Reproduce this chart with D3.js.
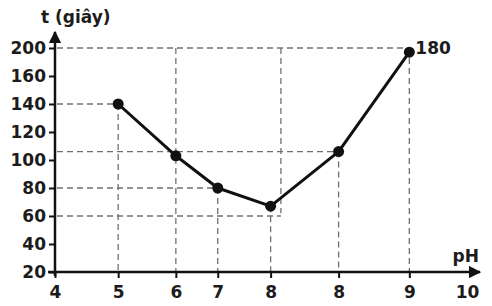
<!DOCTYPE html>
<html>
<head>
<meta charset="utf-8">
<script src="https://cdn.jsdelivr.net/npm/d3@7"></script>
<style>
  body { margin: 0; background: #fff; }
  svg { display: block; }
  text { font-family: "DejaVu Sans", sans-serif; font-weight: bold; fill: #1c1c1c; }
</style>
</head>
<body>
<svg width="492" height="306"></svg>
<script>
// data
const xTickValues = [4, 4.92, 5.76, 6.37, 7.14, 8.13, 9.16, 10];
const xTickLabels = ["4", "5", "6", "7", "8", "8", "9", "10"];
const yTickValues = [20, 40, 60, 80, 100, 120, 140, 160, 200];

const phValues = [4.92, 5.76, 6.37, 7.14, 8.13, 9.16];
const timeValues = [140, 103, 80, 67, 106, 194];
const pointLabels = ["", "", "", "", "", "180"];

// dashed guide lines
const hGuides = [
  { t: 200, ph: 9.16 },
  { t: 140, ph: 4.92 },
  { t: 106, ph: 8.13 },
  { t: 80, ph: 6.37 },
  { t: 60, ph: 7.29 }
];
const vGuides = [
  { ph: 4.92, from: 140, to: 20 },
  { ph: 5.76, from: 200, to: 20 },
  { ph: 6.37, from: 80, to: 20 },
  { ph: 7.14, from: 67, to: 20 },
  { ph: 7.29, from: 200, to: 62 },
  { ph: 8.13, from: 106, to: 20 },
  { ph: 9.16, from: 200, to: 20 }
];

const svg = d3.select("svg");
const mLeft = 55, mRight = 467, mTop = 48, mBottom = 272;

const x = d3.scaleLinear().domain([4, 10]).range([mLeft, mRight]);
// y ticks are drawn evenly spaced (180 skipped), so use a piecewise scale
const step = (mBottom - mTop) / (yTickValues.length - 1);
const y = d3.scaleLinear()
  .domain(yTickValues)
  .range(yTickValues.map((d, i) => mBottom - i * step));

// guides
const guides = svg.append("g")
  .attr("stroke", "#707070")
  .attr("stroke-width", 1.3)
  .attr("stroke-dasharray", "6,4");

guides.selectAll(".hg")
  .data(hGuides)
  .enter()
  .append("line")
  .attr("x1", x(4) + 2)
  .attr("x2", (d) => x(d.ph))
  .attr("y1", (d) => y(d.t))
  .attr("y2", (d) => y(d.t));

guides.selectAll(".vg")
  .data(vGuides)
  .enter()
  .append("line")
  .attr("x1", (d) => x(d.ph))
  .attr("x2", (d) => x(d.ph))
  .attr("y1", (d) => y(d.from))
  .attr("y2", (d) => y(d.to));

// axes
const xAxis = svg.append("g")
  .attr("transform", `translate(0,${mBottom})`)
  .call(
    d3.axisBottom(x)
      .tickValues(xTickValues)
      .tickSize(6)
      .tickPadding(8)
      .tickFormat((d, i) => xTickLabels[i])
  );
xAxis.select(".domain").remove();
xAxis.selectAll(".tick line").attr("stroke", "#111").attr("stroke-width", 2)
  .filter((d) => d === 10).remove();
xAxis.selectAll(".tick text").attr("font-size", 17).attr("font-family", null);

const yAxis = svg.append("g")
  .attr("transform", `translate(${mLeft},0)`)
  .call(d3.axisLeft(y).tickValues(yTickValues).tickSize(6).tickPadding(3));
yAxis.select(".domain").remove();
yAxis.selectAll(".tick line").attr("stroke", "#111").attr("stroke-width", 2);
yAxis.selectAll(".tick text").attr("font-size", 17).attr("font-family", null);

// axis lines with arrows
svg.append("defs").append("marker")
  .attr("id", "arrow")
  .attr("viewBox", "0 0 10 10")
  .attr("refX", 9)
  .attr("refY", 5)
  .attr("markerWidth", 5)
  .attr("markerHeight", 5)
  .attr("markerUnits", "strokeWidth")
  .attr("orient", "auto")
  .append("path")
  .attr("d", "M0,0 L10,5 L0,10 Z")
  .attr("fill", "#111");

svg.append("line")
  .attr("x1", mLeft - 7).attr("x2", 480)
  .attr("y1", mBottom).attr("y2", mBottom)
  .attr("stroke", "#111").attr("stroke-width", 2.5)
  .attr("marker-end", "url(#arrow)");

svg.append("line")
  .attr("x1", mLeft).attr("x2", mLeft)
  .attr("y1", mBottom + 4).attr("y2", 32)
  .attr("stroke", "#111").attr("stroke-width", 2.5)
  .attr("marker-end", "url(#arrow)");

// data line
const points = phValues.map((p, i) => [p, timeValues[i]]);
svg.append("path")
  .datum(points)
  .attr("fill", "none")
  .attr("stroke", "#111")
  .attr("stroke-width", 3)
  .attr("stroke-linejoin", "round")
  .attr("d", d3.line().x((d) => x(d[0])).y((d) => y(d[1])));

svg.selectAll(".dot")
  .data(points)
  .enter()
  .append("circle")
  .attr("cx", (d) => x(d[0]))
  .attr("cy", (d) => y(d[1]))
  .attr("r", 5.5)
  .attr("fill", "#111");

svg.selectAll(".plabel")
  .data(points)
  .enter()
  .append("text")
  .attr("x", (d) => x(d[0]) + 6)
  .attr("y", (d) => y(d[1]) + 2)
  .attr("font-size", 17)
  .text((d, i) => pointLabels[i]);

// axis titles
svg.append("text")
  .attr("x", 41)
  .attr("y", 23)
  .attr("font-size", 17)
  .text("t (giây)");

svg.append("text")
  .attr("x", 479)
  .attr("y", 262)
  .attr("text-anchor", "end")
  .attr("font-size", 17)
  .text("pH");
</script>
</body>
</html>
